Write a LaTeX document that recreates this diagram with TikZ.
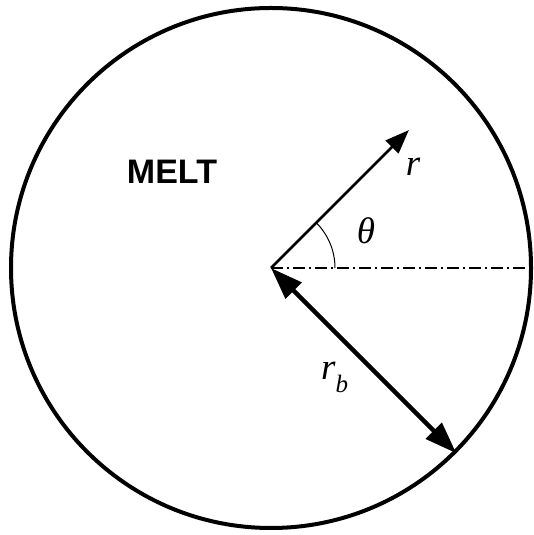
\documentclass[tikz,border=0pt]{standalone}
\usepackage{fontspec}
\setmainfont{Liberation Serif}
\newfontfamily\meltfont{Liberation Sans}
\usetikzlibrary{arrows.meta,calc}
\begin{document}
\begin{tikzpicture}[x=1pt,y=1pt,
  lbl/.style={font=\fontsize{37}{37}\selectfont\itshape, inner sep=0pt}]
\useasboundingbox (0,0) rectangle (534,535);
\coordinate (O) at (271,267);
\node[circle, draw, line width=4pt, minimum size=520pt, inner sep=0pt] (circ) at (O) {};
\coordinate (rtip) at ($(O)+(45:195)$);
\coordinate (E) at (531,267);
\draw[line width=1.5pt, dash pattern=on 12pt off 4pt on 2pt off 4pt] (O) -- (E);
\draw[line width=2.5pt, -{Triangle[length=24pt,width=18pt]}] (O) -- (rtip);
\draw[line width=4.5pt, {Triangle[length=32pt,width=22pt]}-{Triangle[length=32pt,width=22pt]}] (O) -- (circ.-45);
\draw[line width=1pt] ($(O)+(64,0)$) arc[start angle=0, end angle=45, radius=64];
\node[lbl] (rl) at (413,368) {r};
\node[lbl] (tl) at (366,304) {θ};
\node[lbl, anchor=base west] (rbl) at (321,155) {r\raisebox{-0.35em}{\fontsize{25}{25}\selectfont b}};
\node[font=\meltfont\bfseries\fontsize{34}{34}\selectfont, inner sep=0pt] (melt) at (172,363) {MELT};
\end{tikzpicture}
\end{document}
